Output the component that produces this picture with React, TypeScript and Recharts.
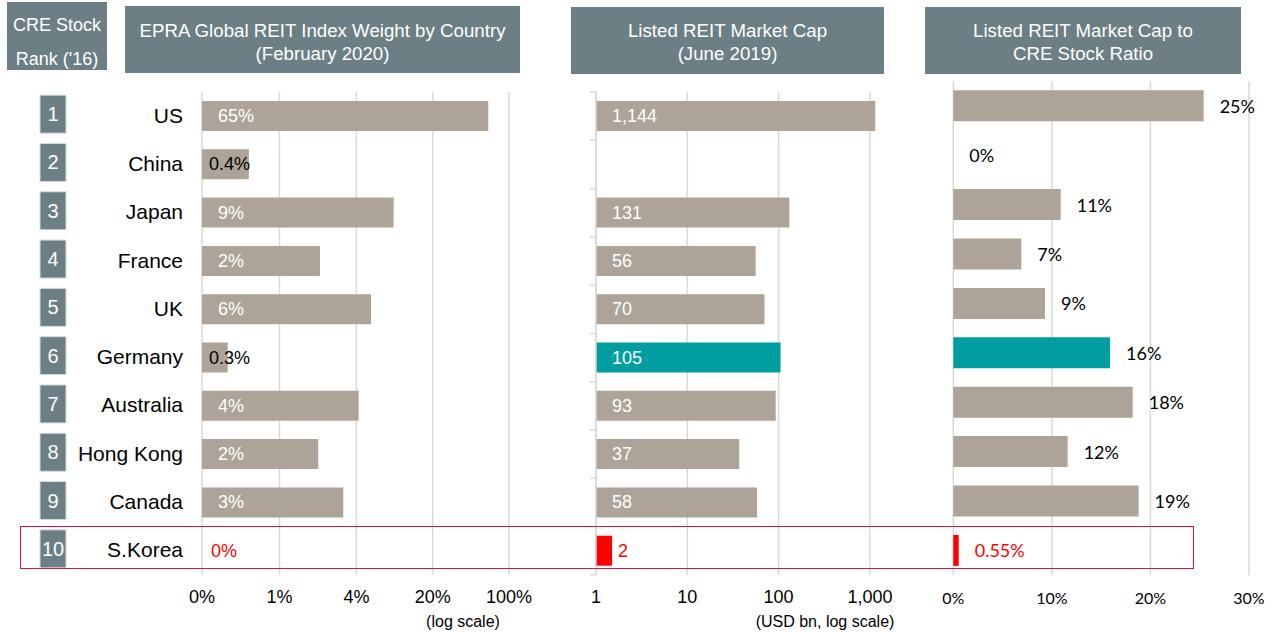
import { BarChart, Bar, XAxis, YAxis, CartesianGrid, Cell, LabelList } from 'recharts'

const countries = ['US', 'China', 'Japan', 'France', 'UK', 'Germany', 'Australia', 'Hong Kong', 'Canada', 'S.Korea']
const ranks = [1, 2, 3, 4, 5, 6, 7, 8, 9, 10]

// EPRA Global REIT index weight (%)
const epraWeight = [65, 0.45, 9.1, 1.97, 5.7, 0.29, 4.4, 1.9, 3.2, 0]
const epraLabels = ['65%', '0.4%', '9%', '2%', '6%', '0.3%', '4%', '2%', '3%', '0%']
const epraTicks = [0.17, 0.85, 4.2, 20.5, 100]
const epraTickLabels = ['0%', '1%', '4%', '20%', '100%']

// listed REIT market cap (USD bn)
const marketCap = [1144, null, 131, 56, 70, 105, 93, 37, 58, 1.5]
const marketCapLabels = ['1,144', '', '131', '56', '70', '105', '93', '37', '58', '2']
const marketCapTicks = [1, 10, 100, 1000]
const marketCapTickLabels = ['1', '10', '100', '1,000']

// listed REIT market cap / CRE stock (%)
const capRatio = [25.4, 0, 10.9, 6.9, 9.3, 15.9, 18.2, 11.6, 18.8, 0.55]
const capRatioLabels = ['25%', '0%', '11%', '7%', '9%', '16%', '18%', '12%', '19%', '0.55%']
const capRatioTicks = [0, 10, 20, 30]
const capRatioTickLabels = ['0%', '10%', '20%', '30%']

const TAUPE = '#ada398'
const TEAL = '#009ea0'
const RED = '#ff0000'
const SLATE = '#6b7f84'
const GRID = '#d9d9d9'
const ARIAL = '"Liberation Sans", Arial, sans-serif'
const CALIBRI = 'Lato, "Open Sans", sans-serif'
const LAST = countries.length - 1

const rows = countries.map((country, i) => ({
  country,
  rank: ranks[i],
  weight: epraWeight[i] > 0 ? epraWeight[i] : null,
  weightLabel: epraLabels[i],
  cap: marketCap[i],
  capLabel: marketCapLabels[i],
  ratio: capRatio[i],
  ratioLabel: capRatioLabels[i],
}))

const barColor = (country: string) => {
  if (country === 'S.Korea') return RED
  if (country === 'Germany') return TEAL
  return TAUPE
}

function AxisTick({ x, y, payload, index, labels, font, size }: any) {
  const i = index ?? payload?.index ?? 0
  return (
    <text x={x} y={y + 14} textAnchor="middle" dominantBaseline="central" fontFamily={font} fontSize={size} fill="#000">
      {labels[i]}
    </text>
  )
}

// rank box + country name, plus the label of a zero weight (no bar on a log axis)
function CountryTick({ y, payload, index }: any) {
  const i = index ?? 0
  return (
    <g>
      <rect x={40} y={y - 21} width={26} height={38} fill={SLATE} stroke="#d5dcde" strokeWidth={1} />
      <text x={53} y={y - 2} textAnchor="middle" dominantBaseline="central" fontFamily={ARIAL} fontSize={20} fill="#fff">
        {ranks[i]}
      </text>
      <text x={183} y={y - 1} textAnchor="end" dominantBaseline="central" fontFamily={ARIAL} fontSize={21} fill="#000">
        {payload.value}
      </text>
      {!(epraWeight[i] > 0) && (
        <text x={211} y={y} dominantBaseline="central" fontFamily={ARIAL} fontSize={18} fill={i === LAST ? RED : '#000'}>
          {epraLabels[i]}
        </text>
      )}
    </g>
  )
}

const ROW2 = 48.3

function BoundaryTick({ x, y, index }: any) {
  return (
    <g>
      <line x1={x + 2} x2={x + 8} y1={y - ROW2 / 2} y2={y - ROW2 / 2} stroke={GRID} strokeWidth={1.5} />
      {index === LAST && <line x1={x + 2} x2={x + 8} y1={y + ROW2 / 2} y2={y + ROW2 / 2} stroke={GRID} strokeWidth={1.5} />}
    </g>
  )
}

// label for a zero ratio, which has no bar to hang a label on
function RatioZeroTick({ y, index }: any) {
  const i = index ?? 0
  if (capRatio[i] !== 0) return null
  return (
    <text x={33.3 + 16} y={y} dominantBaseline="central" fontFamily={CALIBRI} fontSize={18} fill="#000">
      {capRatioLabels[i]}
    </text>
  )
}

function weightLabel(props: any) {
  const { x, y, width, height, value } = props
  if (!value || !(width > 0)) return null
  const small = width < 50
  return (
    <text x={x + (small ? 7 : 16)} y={y + height / 2} dominantBaseline="central" fontFamily={ARIAL} fontSize={18} fill={small ? '#000' : '#fff'}>
      {value}
    </text>
  )
}

function capLabel(props: any) {
  const { x, y, width, height, value } = props
  if (!value) return null
  const isKorea = marketCapLabels.indexOf(value) === LAST
  return (
    <text
      x={isKorea ? x + width + 6 : x + 16}
      y={y + height / 2}
      dominantBaseline="central"
      fontFamily={ARIAL}
      fontSize={18}
      fill={isKorea ? RED : '#fff'}
    >
      {value}
    </text>
  )
}

function ratioLabel(props: any) {
  const { x, y, width, height, value } = props
  const i = capRatioLabels.indexOf(value)
  if (i < 0 || capRatio[i] === 0) return null
  return (
    <text x={x + (width || 0) + 16} y={y + height / 2} dominantBaseline="central" fontFamily={CALIBRI} fontSize={18} fill={i === LAST ? RED : '#000'}>
      {value}
    </text>
  )
}

const headerStyle: React.CSSProperties = {
  position: 'absolute',
  background: SLATE,
  color: '#fff',
  fontFamily: ARIAL,
  fontSize: 18.7,
  textAlign: 'center',
  boxSizing: 'border-box',
}

export default function App() {
  return (
    <div style={{ position: 'absolute', left: 0, top: 0, width: 1274, height: 634, background: '#fff', overflow: 'hidden' }}>
      <div style={{ ...headerStyle, left: 7, top: 2, width: 100, height: 68, lineHeight: '34px', paddingTop: 6, fontSize: 18 }}>
        CRE Stock
        <br />
        Rank ('16)
      </div>
      <div style={{ ...headerStyle, left: 125, top: 6, width: 395, height: 67, lineHeight: '23px', paddingTop: 13 }}>
        EPRA Global REIT Index Weight by Country
        <br />
        (February 2020)
      </div>
      <div style={{ ...headerStyle, left: 571, top: 7, width: 313, height: 67, lineHeight: '23px', paddingTop: 12 }}>
        Listed REIT Market Cap
        <br />
        (June 2019)
      </div>
      <div style={{ ...headerStyle, left: 925, top: 7, width: 316, height: 67, lineHeight: '23px', paddingTop: 12 }}>
        Listed REIT Market Cap to
        <br />
        CRE Stock Ratio
      </div>

      <div style={{ position: 'absolute', left: 0, top: 0 }}>
        <BarChart layout="vertical" width={540} height={634} data={rows} margin={{ top: 92, right: 31, bottom: 19, left: 0 }} barSize={30}>
          <CartesianGrid horizontal={false} stroke={GRID} strokeWidth={1.5} />
          <XAxis
            type="number"
            scale="log"
            domain={[0.17, 100]}
            allowDataOverflow
            ticks={epraTicks}
            interval={0}
            axisLine={false}
            tickLine={false}
            height={40}
            tick={<AxisTick labels={epraTickLabels} font={ARIAL} size={18} />}
          />
          <YAxis type="category" dataKey="country" width={202} axisLine={false} tickLine={false} interval={0} tick={<CountryTick />} />
          <Bar dataKey="weight" fill={TAUPE} isAnimationActive={false}>
            <LabelList dataKey="weightLabel" content={weightLabel} />
          </Bar>
        </BarChart>
      </div>

      <div style={{ position: 'absolute', left: 560, top: 0 }}>
        <BarChart layout="vertical" width={360} height={634} data={rows} margin={{ top: 92, right: 22.6, bottom: 19, left: 0 }} barSize={30}>
          <CartesianGrid horizontal={false} stroke={GRID} strokeWidth={1.5} verticalValues={marketCapTicks} />
          <XAxis
            type="number"
            scale="log"
            domain={[1, 2000]}
            allowDataOverflow
            ticks={marketCapTicks}
            interval={0}
            axisLine={false}
            tickLine={false}
            height={40}
            tick={<AxisTick labels={marketCapTickLabels} font={ARIAL} size={18} />}
          />
          <YAxis
            type="category"
            dataKey="country"
            width={36}
            axisLine={{ stroke: GRID, strokeWidth: 1.5 }}
            tickLine={false}
            interval={0}
            tick={<BoundaryTick />}
          />
          <Bar dataKey="cap" isAnimationActive={false}>
            {rows.map((r) => (
              <Cell key={r.country} fill={barColor(r.country)} />
            ))}
            <LabelList dataKey="capLabel" content={capLabel} />
          </Bar>
        </BarChart>
      </div>

      <div style={{ position: 'absolute', left: 920, top: 0 }}>
        <BarChart layout="vertical" width={354} height={634} data={rows} margin={{ top: 81.3, right: 25, bottom: 18.7, left: 0 }} barSize={31}>
          <CartesianGrid horizontal={false} stroke={GRID} strokeWidth={1.5} />
          <XAxis
            type="number"
            domain={[0, 30]}
            ticks={capRatioTicks}
            interval={0}
            axisLine={false}
            tickLine={false}
            height={40}
            tick={<AxisTick labels={capRatioTickLabels} font={CALIBRI} size={16} />}
          />
          <YAxis type="category" dataKey="country" width={33.3} axisLine={false} tickLine={false} interval={0} tick={<RatioZeroTick />} />
          <Bar dataKey="ratio" isAnimationActive={false}>
            {rows.map((r) => (
              <Cell key={r.country} fill={barColor(r.country)} />
            ))}
            <LabelList dataKey="ratioLabel" content={ratioLabel} />
          </Bar>
        </BarChart>
      </div>

      <div
        style={{
          position: 'absolute',
          left: 20,
          top: 526,
          width: 1174,
          height: 43,
          border: '1.5px solid #e0103c',
          boxSizing: 'border-box',
        }}
      />

      <div style={{ position: 'absolute', left: 363, top: 612, width: 200, textAlign: 'center', fontFamily: ARIAL, fontSize: 16, lineHeight: '20px' }}>
        (log scale)
      </div>
      <div style={{ position: 'absolute', left: 725, top: 612, width: 200, textAlign: 'center', fontFamily: ARIAL, fontSize: 16, lineHeight: '20px' }}>
        (USD bn, log scale)
      </div>
    </div>
  )
}
